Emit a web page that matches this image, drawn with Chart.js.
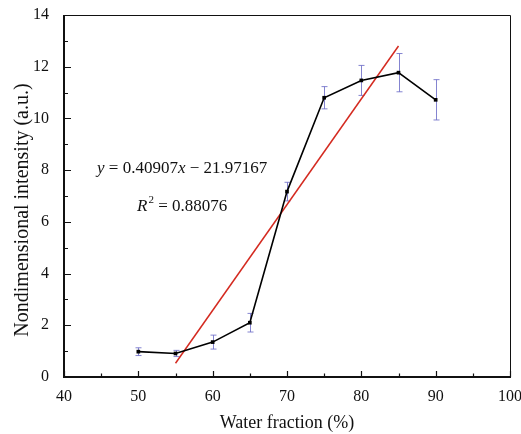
<!DOCTYPE html>
<html>
<head>
<meta charset="utf-8">
<script src="https://cdn.jsdelivr.net/npm/chart.js@4.4.1/dist/chart.umd.min.js"></script>
<style>
  html, body { margin: 0; padding: 0; background: #fff; }
  canvas { display: block; }
</style>
</head>
<body>
<canvas id="chart" width="521" height="434"></canvas>
<script>
// values
const waterFraction = [50, 55, 60, 65, 70, 75, 80, 85, 90];
const intensity = [0.98, 0.91, 1.35, 2.1, 7.17, 10.8, 11.47, 11.77, 10.72];
const errorBars = [0.15, 0.12, 0.27, 0.36, 0.36, 0.43, 0.58, 0.74, 0.78];

// linear fit y = 0.40907x - 21.97167, drawn from 55 to 85
const fitX = [55, 85];
const fitY = [0.53, 12.80];

const xMajor = [40, 50, 60, 70, 80, 90, 100];
const xMinor = [45, 55, 65, 75, 85, 95];
const yMajor = [0, 2, 4, 6, 8, 10, 12, 14];
const yMinor = [1, 3, 5, 7, 9, 11, 13];

const xTitle = 'Water fraction (%)';
const yTitle = 'Nondimensional intensity (a.u.)';

const serif = '"Liberation Serif", "Times New Roman", serif';

// error bars, drawn under the markers
const errorBarPlugin = {
  id: 'errorBars',
  beforeDatasetsDraw(chart) {
    const { ctx, scales: { x, y } } = chart;
    ctx.save();
    ctx.strokeStyle = 'rgba(110, 110, 200, 0.85)';
    ctx.lineWidth = 1;
    waterFraction.forEach((wf, i) => {
      const px = Math.round(x.getPixelForValue(wf)) + 0.5;
      const top = y.getPixelForValue(intensity[i] + errorBars[i]);
      const bot = y.getPixelForValue(intensity[i] - errorBars[i]);
      ctx.beginPath();
      ctx.moveTo(px, top); ctx.lineTo(px, bot);
      ctx.moveTo(px - 3, top); ctx.lineTo(px + 3, top);
      ctx.moveTo(px - 3, bot); ctx.lineTo(px + 3, bot);
      ctx.stroke();
    });
    ctx.restore();
  }
};

// frame with inward ticks, axis titles and the fit equation
const framePlugin = {
  id: 'frame',
  afterDraw(chart) {
    const { ctx, chartArea: a, scales: { x, y } } = chart;
    ctx.save();
    ctx.strokeStyle = '#111';

    ctx.lineWidth = 1;
    ctx.beginPath();
    ctx.moveTo(a.left, a.top + 0.5); ctx.lineTo(a.right + 0.5, a.top + 0.5);
    ctx.lineTo(a.right + 0.5, a.bottom);
    ctx.stroke();

    ctx.lineWidth = 2;
    ctx.beginPath();
    ctx.moveTo(a.left, a.top); ctx.lineTo(a.left, a.bottom);
    ctx.lineTo(a.right + 1, a.bottom);
    ctx.stroke();

    ctx.lineWidth = 1.2;
    ctx.beginPath();
    xMajor.forEach(v => {
      const px = Math.round(x.getPixelForValue(v)) + 0.5;
      ctx.moveTo(px, a.bottom); ctx.lineTo(px, a.bottom - 6);
    });
    xMinor.forEach(v => {
      const px = Math.round(x.getPixelForValue(v)) + 0.5;
      ctx.moveTo(px, a.bottom); ctx.lineTo(px, a.bottom - 3.5);
    });
    yMajor.forEach(v => {
      const py = Math.round(y.getPixelForValue(v)) + 0.5;
      ctx.moveTo(a.left, py); ctx.lineTo(a.left + 7, py);
    });
    yMinor.forEach(v => {
      const py = Math.round(y.getPixelForValue(v)) + 0.5;
      ctx.moveTo(a.left, py); ctx.lineTo(a.left + 4, py);
    });
    ctx.stroke();

    ctx.fillStyle = '#111';

    // axis titles
    ctx.textAlign = 'center';
    ctx.textBaseline = 'alphabetic';
    ctx.font = '18px ' + serif;
    ctx.fillText(xTitle, 287, 428);
    ctx.save();
    ctx.translate(28, 210);
    ctx.rotate(-Math.PI / 2);
    ctx.font = '20px ' + serif;
    ctx.fillText(yTitle, 0, 0);
    ctx.restore();

    // equation text
    ctx.textAlign = 'left';
    let cx = 97;
    const parts = [
      ['italic 17px ' + serif, 'y'],
      ['17px ' + serif, ' = 0.40907'],
      ['italic 17px ' + serif, 'x'],
      ['17px ' + serif, ' \u2212 21.97167']
    ];
    parts.forEach(([f, t]) => {
      ctx.font = f;
      ctx.fillText(t, cx, 173);
      cx += ctx.measureText(t).width;
    });
    cx = 137;
    ctx.font = 'italic 17px ' + serif;
    ctx.fillText('R', cx, 211);
    cx += ctx.measureText('R').width + 1;
    ctx.font = '11px ' + serif;
    ctx.fillText('2', cx, 203);
    cx += ctx.measureText('2').width;
    ctx.font = '17px ' + serif;
    ctx.fillText(' = 0.88076', cx, 211);
    ctx.restore();
  }
};

new Chart(document.getElementById('chart'), {
  type: 'scatter',
  data: {
    datasets: [
      {
        label: 'Intensity',
        data: waterFraction.map((v, i) => ({ x: v, y: intensity[i] })),
        showLine: true,
        borderColor: '#000',
        backgroundColor: '#000',
        borderWidth: 1.6,
        pointStyle: 'rect',
        pointRadius: 2.6,
        pointBorderWidth: 0,
        order: 1
      },
      {
        label: 'Fit',
        data: fitX.map((v, i) => ({ x: v, y: fitY[i] })),
        showLine: true,
        borderColor: '#d42a20',
        borderWidth: 1.5,
        pointRadius: 0,
        order: 2
      }
    ]
  },
  options: {
    responsive: false,
    animation: false,
    devicePixelRatio: 1,
    layout: { padding: { top: 15, right: 11, left: 0, bottom: 0 } },
    plugins: { legend: { display: false }, tooltip: { enabled: false } },
    scales: {
      x: {
        type: 'linear',
        min: 40, max: 100,
        grid: { display: false },
        border: { display: false },
        ticks: { stepSize: 10, padding: 2, color: '#111', font: { family: serif, size: 16 }, maxRotation: 0 },
        afterFit(s) { s.height = 57; s.paddingLeft = 0; s.paddingRight = 0; }
      },
      y: {
        min: 0, max: 14,
        grid: { display: false },
        border: { display: false },
        ticks: { stepSize: 2, padding: 7, color: '#111', font: { family: serif, size: 16 } },
        afterFit(s) { s.width = 64; s.paddingTop = 0; s.paddingBottom = 0; }
      }
    }
  },
  plugins: [errorBarPlugin, framePlugin]
});
</script>
</body>
</html>
